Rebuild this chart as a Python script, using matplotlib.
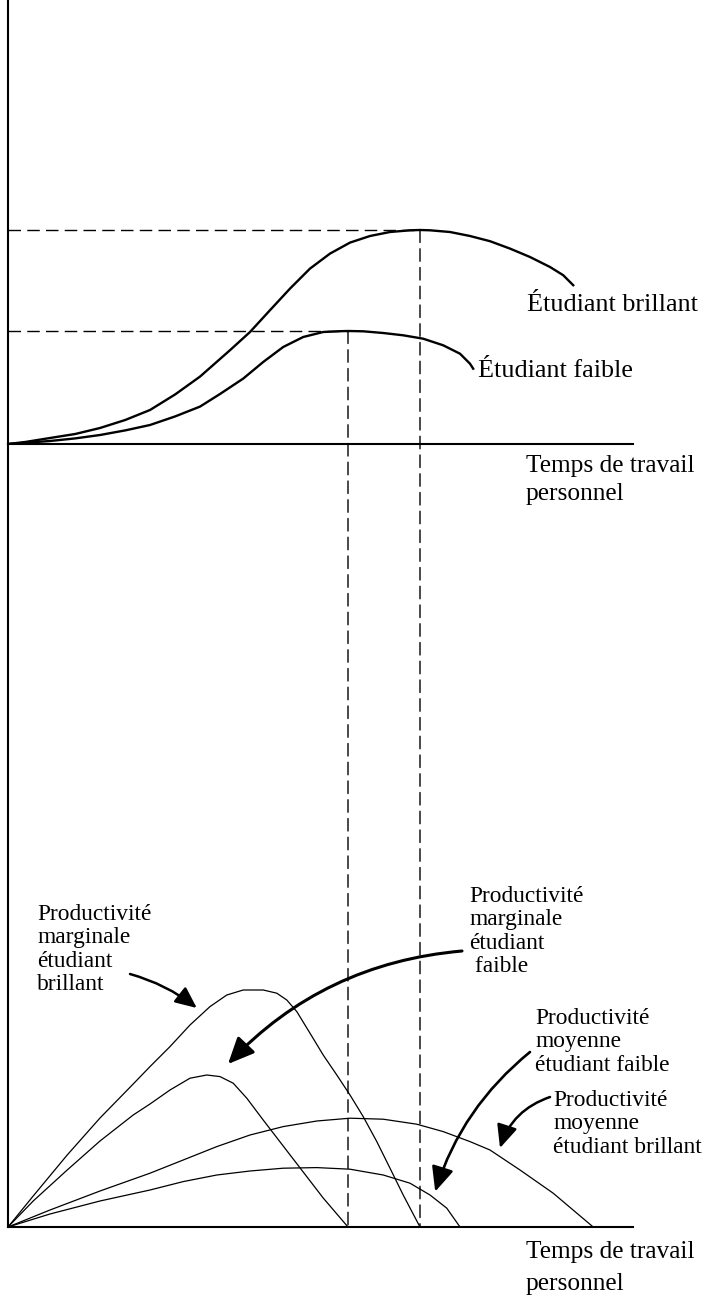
import matplotlib.pyplot as plt
from matplotlib.patches import ConnectionPatch

plt.rcParams['font.family'] = ['Liberation Serif', 'DejaVu Serif']

# --- Panneau du haut : production selon le temps de travail personnel
t_brillant = [0, 0.43, 1.05, 1.68, 2.3, 2.93, 3.55, 4.18, 4.8, 5.55, 6.05, 6.55, 7.05,
              7.55, 8.05, 8.55, 9.05, 9.55, 10.05, 10.3, 10.55, 11.05, 11.55, 12.05,
              12.55, 13.05, 13.55, 13.88, 14.13]
prod_brillant = [0, 0.1, 0.3, 0.5, 0.8, 1.2, 1.7, 2.48, 3.37, 4.69, 5.6, 6.69, 7.77,
                 8.77, 9.52, 10.07, 10.4, 10.6, 10.685, 10.7, 10.685, 10.6, 10.4, 10.14,
                 9.77, 9.35, 8.85, 8.44, 7.94]
t_faible = [0, 1.05, 1.68, 2.3, 2.93, 3.55, 4.18, 4.8, 5.3, 5.88, 6.38, 6.88, 7.38,
            7.88, 8.3, 8.5, 8.88, 9.38, 9.88, 10.38, 10.88, 11.3, 11.55, 11.63]
prod_faible = [0, 0.15, 0.28, 0.45, 0.68, 0.95, 1.38, 1.87, 2.5, 3.27, 4.1, 4.85, 5.35,
               5.6, 5.64, 5.65, 5.635, 5.55, 5.435, 5.265, 4.935, 4.515, 4.015, 3.765]

# --- Panneau du bas : productivites marginale et moyenne
t_pm_brillant = [0, 0.63, 1.48, 2.3, 3.13, 3.55, 4.05, 4.55, 5.05, 5.47, 5.88, 6.38,
                 6.72, 6.97, 7.22, 7.55, 7.88, 8.22, 8.55, 8.88, 9.22, 9.55, 9.88, 10.3]
pm_brillant = [0, 1.55, 3.6, 5.45, 7.15, 8.02, 9.02, 10.1, 11.02, 11.6, 11.85, 11.85,
               11.69, 11.35, 10.77, 9.69, 8.6, 7.6, 6.6, 5.52, 4.27, 2.94, 1.6, 0]
t_pm_faible = [0, 0.63, 1.48, 2.3, 3.13, 3.55, 4.05, 4.55, 4.97, 5.3, 5.63, 5.97,
               6.38, 6.88, 7.38, 7.88, 8.5]
pm_faible = [0, 1.3, 2.85, 4.3, 5.6, 6.15, 6.85, 7.44, 7.6, 7.52, 7.19, 6.44,
             5.35, 4.05, 2.75, 1.45, 0]
t_moy_brillant = [0, 1.05, 2.3, 3.55, 4.38, 5.22, 6.05, 6.88, 7.72, 8.55, 9.38, 10.22,
                  10.88, 11.55, 12.05, 12.8, 13.63, 14.63]
moy_brillant = [0, 0.85, 1.8, 2.69, 3.35, 4.02, 4.6, 5.02, 5.3, 5.44, 5.39, 5.14,
                4.77, 4.27, 3.85, 2.85, 1.69, 0]
t_moy_faible = [0, 1.05, 2.3, 3.55, 4.38, 5.22, 6.05, 6.88, 7.72, 8.55, 9.38, 10.05,
                10.55, 10.97, 11.3]
moy_faible = [0, 0.65, 1.3, 1.85, 2.27, 2.6, 2.8, 2.94, 2.97, 2.89, 2.6, 2.19,
              1.6, 0.94, 0]

W, H = 719, 1299
x_left, x_right = 8, 633
y_axe_haut, y_axe_bas = 444, 1227
px_x, px_y = 40.0, 20.0  # pixels par unite

fig = plt.figure(figsize=(W / 100, H / 100), dpi=100)
ax_top = fig.add_axes([x_left / W, 1 - y_axe_haut / H, (x_right - x_left) / W, y_axe_haut / H])
ax_bot = fig.add_axes([x_left / W, 1 - y_axe_bas / H, (x_right - x_left) / W,
                       (y_axe_bas - y_axe_haut) / H])

for ax, h in ((ax_top, y_axe_haut), (ax_bot, y_axe_bas - y_axe_haut)):
    ax.set_xlim(0, (x_right - x_left) / px_x)
    ax.set_ylim(0, h / px_y)
    ax.set_xticks([])
    ax.set_yticks([])
    ax.patch.set_visible(False)
    for side in ('top', 'right'):
        ax.spines[side].set_visible(False)
    for side in ('left', 'bottom'):
        ax.spines[side].set_linewidth(1.5)

dash = (0, (9, 4.5))

# courbes de production
ax_top.plot(t_brillant, prod_brillant, color='black', lw=1.7, solid_joinstyle='round')
ax_top.plot(t_faible, prod_faible, color='black', lw=1.7, solid_joinstyle='round')

# maxima : tirets horizontaux puis verticaux jusqu'a l'axe du bas
for t, p in ((t_brillant, prod_brillant), (t_faible, prod_faible)):
    i = p.index(max(p))
    ax_top.plot([0, t[i]], [p[i], p[i]], color='black', lw=1.0, ls=dash)
    con = ConnectionPatch(xyA=(t[i], p[i]), coordsA=ax_top.transData,
                          xyB=(t[i], 0), coordsB=ax_bot.transData,
                          color='black', lw=1.0, ls=dash)
    fig.add_artist(con)

# courbes de productivite
for t, v in ((t_pm_brillant, pm_brillant), (t_pm_faible, pm_faible),
             (t_moy_brillant, moy_brillant), (t_moy_faible, moy_faible)):
    ax_bot.plot(t, v, color='black', lw=0.9, solid_joinstyle='round')


def label(ax, x, y, lines, size, pitch):
    for k, line in enumerate(lines):
        ax.text(x, y - k * pitch, line, fontsize=size, va='baseline', ha='left')


ax_top.text(12.98, 6.67, 'Étudiant brillant', fontsize=18.8, va='baseline')
ax_top.text(11.75, 3.33, 'Étudiant faible', fontsize=18.8, va='baseline')
label(ax_top, 12.95, -1.4, ['Temps de travail', 'personnel'], 18.3, 1.4)
label(ax_bot, 12.95, -1.55, ['Temps de travail', 'personnel'], 18.3, 1.6)

pitch = 23.5 / px_y
label(ax_bot, 0.73, 15.35, ['Productivité', 'marginale', 'étudiant', 'brillant'], 16.8, pitch)
label(ax_bot, 11.53, 16.25, ['Productivité', 'marginale', 'étudiant', ' faible'], 16.8, pitch)
label(ax_bot, 13.18, 10.15, ['Productivité', 'moyenne', 'étudiant faible'], 16.8, pitch)
label(ax_bot, 13.63, 6.05, ['Productivité', 'moyenne', 'étudiant brillant'], 16.8, pitch)

# fleches : (queue, pointe, courbure, epaisseur, taille de pointe)
arrows = [
    ((3.05, 12.65), (4.72, 10.95), -0.1, 1.8, 0.65),
    ((11.35, 13.8), (5.5, 8.15), 0.19, 2.2, 0.8),
    ((13.05, 8.75), (10.68, 1.77), 0.15, 1.9, 0.75),
    ((13.55, 6.5), (12.3, 3.95), 0.25, 1.8, 0.7),
]
for tail, head, rad, lw, hl in arrows:
    ax_bot.annotate('', xy=head, xytext=tail,
                    arrowprops=dict(arrowstyle=f'-|>,head_length={hl},head_width={hl * 0.45}',
                                    connectionstyle=f'arc3,rad={rad}',
                                    color='black', lw=lw, shrinkA=0, shrinkB=0,
                                    mutation_scale=20))

fig.savefig('out.png', dpi=100)
